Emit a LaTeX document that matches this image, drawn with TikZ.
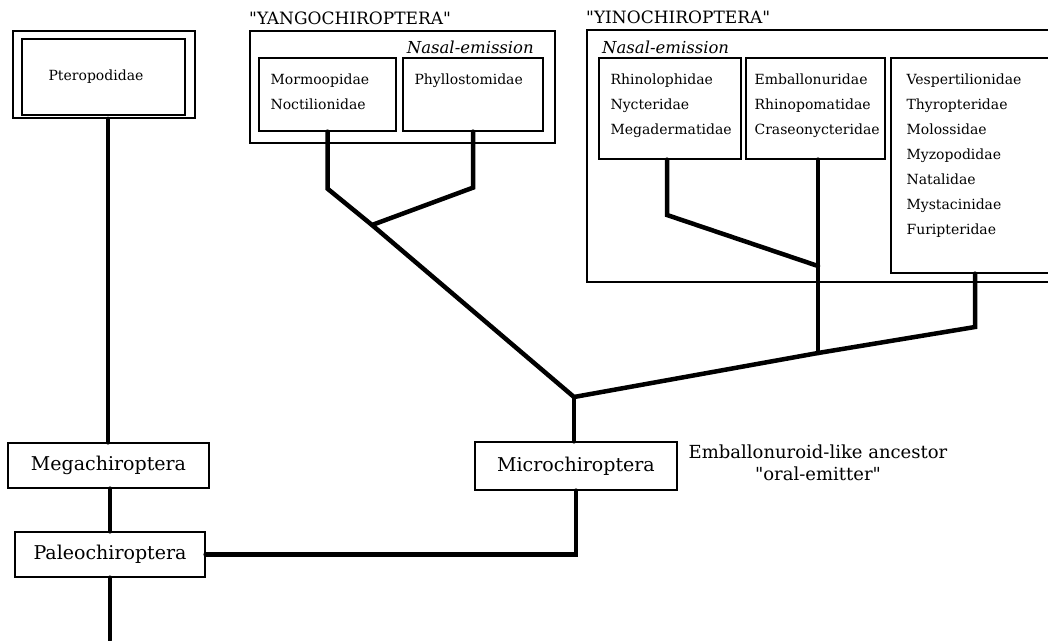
\documentclass[tikz,border=0pt]{standalone}
\usepackage{fontspec}
\setmainfont{DejaVu Serif}[Ligatures=TeXOff]
\usetikzlibrary{positioning,calc}

\begin{document}
\begin{tikzpicture}[x=1pt,y=-1pt]
  \tikzset{
    taxon/.style={draw, line width=1.3pt, minimum height=45, inner sep=0pt,
      font=\fontsize{19}{21}\selectfont},
    fambox/.style={draw, line width=1.3pt, inner sep=0pt},
    famtext/.style={inner sep=0pt, align=left, font=\fontsize{14}{25}\selectfont},
    groupbox/.style={draw, line width=2pt, inner sep=0pt},
    grouptitle/.style={inner sep=0pt, font=\fontsize{17}{19}\selectfont},
    nasal/.style={inner sep=0pt, font=\fontsize{16.5}{18}\selectfont\itshape},
    branch/.style={line width=4.5pt, line cap=round}
  }
  \useasboundingbox (0,0) rectangle (1048,640);
  \fill[white] (0,0) rectangle (1048,640);
  \clip (0,0) rectangle (1048,640);

  % ======= Pteropodidae / Megachiroptera =======
  \node[fambox, line width=1.8pt, minimum width=182, minimum height=87] (pterout) at (104,74.5) {};
  \node[fambox, minimum width=163, minimum height=76] (pter) at (103.5,77) {};
  \node[inner sep=0pt, font=\fontsize{14}{16}\selectfont] (ptertxt) at (96,77) {Pteropodidae};
  \node[taxon, minimum width=201] (mega) at (108.5,465.5) {Megachiroptera};
  \node[taxon, minimum width=190] (paleo) at (110,554.5) {Paleochiroptera};
  \coordinate (root) at (110,640);

  % ======= Microchiroptera =======
  \node[taxon, minimum width=202, minimum height=48] (micro) at (576,466) {Microchiroptera};
  \node[inner sep=0pt, align=center, font=\fontsize{18}{22}\selectfont] (ancestor) at (818,463)
    {Emballonuroid-like ancestor\\"oral-emitter"};

  % ======= "YANGOCHIROPTERA" =======
  \node[groupbox, minimum width=305, minimum height=112] (yang) at (402.5,87) {};
  \node[grouptitle, above right=5pt and 0pt of yang.north west] (yangtitle) {"YANGOCHIROPTERA"};
  \node[nasal, anchor=east] (yangnasal) at (534,47) {Nasal-emission};
  \node[fambox, minimum width=137, minimum height=73] (mormo) at (327.5,94.5) {};
  \node[famtext, below right=16pt and 12pt of mormo.north west] (mormotxt) {Mormoopidae\\Noctilionidae};
  \node[fambox, minimum width=140, minimum height=73] (phyllo) at (473,94.5) {};
  \node[famtext, below right=16pt and 12pt of phyllo.north west] (phyllotxt) {Phyllostomidae};

  % ======= "YINOCHIROPTERA" =======
  \node[groupbox, minimum width=483, minimum height=252] (yin) at (828.5,156) {};
  \node[grouptitle, above right=5pt and 0pt of yin.north west] (yintitle) {"YINOCHIROPTERA"};
  \node[nasal, anchor=west] (yinnasal) at (602,47) {Nasal-emission};
  \node[fambox, minimum width=142, minimum height=101] (rhino) at (670,108.5) {};
  \node[famtext, below right=16pt and 12pt of rhino.north west] (rhinotxt) {Rhinolophidae\\Nycteridae\\Megadermatidae};
  \node[fambox, minimum width=139, minimum height=101] (emb) at (815.5,108.5) {};
  \node[famtext, below right=16pt and 9pt of emb.north west] (embtxt) {Emballonuridae\\Rhinopomatidae\\Craseonycteridae};
  \node[fambox, minimum width=179, minimum height=215] (vesp) at (980.5,165.5) {};
  \node[famtext, below right=16pt and 16pt of vesp.north west] (vesptxt)
    {Vespertilionidae\\Thyropteridae\\Molossidae\\Myzopodidae\\Natalidae\\Mystacinidae\\Furipteridae};

  % ======= Junctions =======
  \coordinate (mj) at (574,397);
  \coordinate (yj) at (372,225);
  \coordinate (yinj) at (818,353);
  \coordinate (rhinoj) at (818,266);
  \coordinate (vespj) at (975,327);

  % ======= Branches =======
  \draw[branch] (pterout.south -| 108,0) -- (mega.north -| 108,0);
  \draw[branch] (mega.south -| paleo.north) -- (paleo.north);
  \draw[branch] (paleo.south) -- (root);
  \draw[branch] (paleo.east) -| (micro.south);
  \draw[branch] (micro.north -| mj) -- (mj);
  \draw[branch] (mormo.south) -- ++(0,57) -- (yj) -- (mj) -- (yinj) -- (vespj) -- (vespj |- vesp.south);
  \draw[branch] (phyllo.south) -- ++(0,56) -- (yj);
  \draw[branch] (emb.south -| yinj) -- (yinj);
  \draw[branch] (rhino.south -| 667,0) -- (667,215) -- (rhinoj);
\end{tikzpicture}
\end{document}
